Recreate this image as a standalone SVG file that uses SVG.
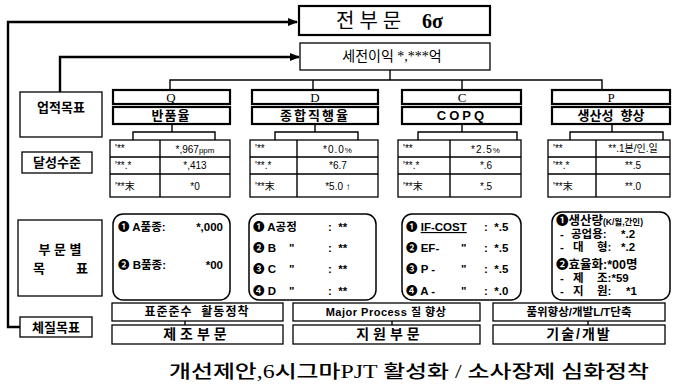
<svg xmlns="http://www.w3.org/2000/svg" width="673" height="387" viewBox="0 0 673 387">
<defs>
<style>
.bx{fill:#fff;stroke:#000;stroke-width:1.3}
.bk{fill:#fff;stroke:#000;stroke-width:2.2}
.ln{fill:none;stroke:#000;stroke-width:1.4}
.lk{fill:none;stroke:#000;stroke-width:2.4}
.rb{fill:#fff;stroke:#000;stroke-width:1.5}
text{white-space:pre}
.k{font-family:"Liberation Sans","Noto Sans CJK KR",sans-serif;font-weight:bold;fill:#000}
.s{font-family:"Liberation Serif","Noto Sans CJK KR",serif;fill:#000}
.m{text-anchor:middle}
.e{text-anchor:end}
.lb{font-size:13px}
.cell{font-size:10px;font-family:"Liberation Sans","Noto Sans CJK KR",sans-serif;fill:#000}
.item{font-size:11.5px}
.pi{font-size:11.5px}
</style>
<marker id="ar" markerWidth="10" markerHeight="8" refX="9" refY="4" orient="auto" markerUnits="userSpaceOnUse">
<path d="M0,0 L10,4 L0,8 Z" fill="#000"/>
</marker>
</defs>
<rect width="673" height="387" fill="#fff"/>

<g id="connectors">
<polyline class="lk" points="20,327 8,327 8,22 297,22" marker-end="url(#ar)"/>
<polyline class="lk" points="60,92 60,57 299,57" marker-end="url(#ar)"/>
<line class="ln" x1="390" y1="70" x2="390" y2="80"/>
<polyline class="ln" points="170,90 170,80 602,80 602,90"/>
<line class="ln" x1="313" y1="80" x2="313" y2="90"/>
<line class="ln" x1="462" y1="80" x2="462" y2="90"/>
<path class="ln" d="M172,124V132M133,140V132H215V140"/>
<path class="ln" d="M315,124V132M275,140V132H358V140"/>
<path class="ln" d="M462,124V132M418,140V132H517V140"/>
<path class="ln" d="M612,124V132M570,140V132H663V140"/>
<line class="ln" x1="185" y1="321" x2="185" y2="325"/>
<line class="ln" x1="392" y1="321" x2="392" y2="325"/>
<line class="ln" x1="588" y1="321" x2="588" y2="325"/>
</g>

<g id="top">
<rect class="bk" x="299" y="6" width="191" height="29"/>
<text class="s" x="336" y="28" font-size="20">전 부 문</text>
<text class="s" x="422" y="28" font-size="20" font-weight="bold">6σ</text>
</g>
<g id="profit">
<rect class="bx" x="300" y="43" width="190" height="27"/>
<text class="s m" x="392" y="61" font-size="14">세전이익 *,***억</text>
</g>

<g id="label-perf">
<rect class="bx" x="20" y="92" width="82" height="45"/>
<text class="k m lb" x="61" y="112">업적목표</text>
</g>
<g id="label-level">
<rect class="bx" x="22" y="152" width="70" height="21"/>
<text class="k m lb" x="57" y="167">달성수준</text>
</g>
<g id="label-dept">
<rect class="bx" x="18" y="220" width="84" height="76"/>
<text class="k m lb" x="60" y="254">부 문 별</text>
<text class="k lb" x="33" y="273">목</text>
<text class="k lb" x="76" y="273">표</text>
</g>
<g id="label-const">
<rect class="bx" x="20" y="317" width="72" height="20"/>
<text class="k m lb" x="56" y="332">체질목표</text>
</g>

<g id="col-Q">
<rect class="bk" x="113" y="90" width="117" height="14"/>
<text class="s m" x="171" y="102" font-size="13">Q</text>
<rect class="bk" x="113" y="107" width="117" height="17"/>
<text class="k m" x="171" y="120" font-size="13" letter-spacing="1">반품율</text>
<rect class="bx" x="110" y="140" width="120" height="57"/>
<path class="ln" d="M160,140V197M110,157H230M110,174H230"/>
<text class="cell" x="115" y="152">'**</text>
<text class="cell" x="115" y="169">'**.*</text>
<text class="cell" x="115" y="190" font-size="12">'**末</text>
<text class="cell m" x="195" y="153" font-size="12">*,967<tspan font-size="8">ppm</tspan></text>
<text class="cell m" x="195" y="169">*,413</text>
<text class="cell m" x="195" y="190">*0</text>
</g>

<g id="col-D">
<rect class="bk" x="252" y="90" width="126" height="14"/>
<text class="s m" x="315" y="102" font-size="13">D</text>
<rect class="bk" x="252" y="107" width="126" height="17"/>
<text class="k m" x="315" y="120" font-size="13" letter-spacing="2">종합직행율</text>
<rect class="bx" x="250" y="140" width="128" height="57"/>
<path class="ln" d="M297,140V197M250,157H378M250,174H378"/>
<text class="cell" x="255" y="152">'**</text>
<text class="cell" x="255" y="169">'**.*</text>
<text class="cell" x="255" y="190" font-size="12">'**末</text>
<text class="cell m" x="338" y="153" font-size="12" letter-spacing="1">*0.0<tspan font-size="8">%</tspan></text>
<text class="cell m" x="338" y="169">*6.7</text>
<text class="cell m" x="338" y="190" font-size="11">*5.0 ↑</text>
</g>

<g id="col-C">
<rect class="bk" x="402" y="90" width="119" height="14"/>
<text class="s m" x="462" y="102" font-size="13">C</text>
<rect class="bk" x="402" y="107" width="119" height="17"/>
<text class="k m" x="462" y="120" font-size="13" letter-spacing="3">COPQ</text>
<rect class="bx" x="398" y="140" width="123" height="57"/>
<path class="ln" d="M450,140V197M398,157H521M398,174H521"/>
<text class="cell" x="403" y="152">'**</text>
<text class="cell" x="403" y="169">'**.*</text>
<text class="cell" x="403" y="190" font-size="12">'**末</text>
<text class="cell m" x="486" y="153" font-size="12" letter-spacing="1">*2.5<tspan font-size="8">%</tspan></text>
<text class="cell m" x="486" y="169">*.6</text>
<text class="cell m" x="486" y="190">*.5</text>
</g>

<g id="col-P">
<rect class="bk" x="552" y="90" width="118" height="14"/>
<text class="s m" x="611" y="102" font-size="13">P</text>
<rect class="bk" x="552" y="107" width="118" height="17"/>
<text class="k m" x="611" y="120" font-size="13">생산성  향상</text>
<rect class="bx" x="548" y="140" width="122" height="57"/>
<path class="ln" d="M596,140V197M548,157H670M548,174H670"/>
<text class="cell" x="553" y="152">'**</text>
<text class="cell" x="553" y="169">'**.*</text>
<text class="cell" x="553" y="190" font-size="12">'**末</text>
<text class="cell m" x="633" y="152" font-size="9.5">**.1본/인.일</text>
<text class="cell m" x="633" y="169">**.5</text>
<text class="cell m" x="633" y="190">**.0</text>
</g>

<g id="goal-Q">
<rect class="rb" x="113" y="214" width="117" height="86" rx="10"/>
<text class="k item" x="118" y="231">❶ A품종:</text>
<text class="k item e" x="223" y="231">*,000</text>
<text class="k item" x="118" y="269">❷ B품종:</text>
<text class="k item e" x="223" y="269">*00</text>
</g>
<g id="goal-D">
<rect class="rb" x="249" y="214" width="127" height="86" rx="10"/>
<text class="k item" x="253" y="231">❶ A공정</text>
<text class="k item" x="253" y="252">❷ B</text>
<text class="k item" x="253" y="273">❸ C</text>
<text class="k item" x="253" y="295">❹ D</text>
<text class="k item" x="289" y="252">"</text>
<text class="k item" x="289" y="273">"</text>
<text class="k item" x="289" y="295">"</text>
<text class="k item" x="328" y="231">:  **</text>
<text class="k item" x="328" y="252">:  **</text>
<text class="k item" x="328" y="273">:  **</text>
<text class="k item" x="328" y="295">:  **</text>
</g>
<g id="goal-C">
<rect class="rb" x="402" y="214" width="119" height="86" rx="10"/>
<text class="k item" x="406" y="231">❶ <tspan text-decoration="underline">IF-COST</tspan></text>
<text class="k item" x="406" y="252">❷ EF-</text>
<text class="k item" x="406" y="273">❸ P -</text>
<text class="k item" x="406" y="295">❹ A -</text>
<text class="k item" x="461" y="252">"</text>
<text class="k item" x="461" y="273">"</text>
<text class="k item" x="461" y="295">"</text>
<text class="k item" x="484" y="231">:  *.5</text>
<text class="k item" x="484" y="252">:  *.5</text>
<text class="k item" x="484" y="273">:  *.5</text>
<text class="k item" x="484" y="295">:  *.0</text>
</g>
<g id="goal-P">
<rect class="rb" x="552" y="212" width="118" height="88" rx="10"/>
<text class="k" x="556" y="225" font-size="12.5">❶생산량<tspan font-size="8.5">(K/월,간인)</tspan></text>
<text class="k pi" x="560" y="238">-</text>
<text class="k pi" x="571" y="238">공업용:</text>
<text class="k pi" x="621" y="238">*.2</text>
<text class="k pi" x="560" y="251">-</text>
<text class="k pi" x="573" y="251">대</text>
<text class="k pi" x="597" y="251">형:</text>
<text class="k pi" x="621" y="251">*.2</text>
<text class="k" x="556" y="269" font-size="12.5">❷효율화:*00명</text>
<text class="k pi" x="560" y="282">-</text>
<text class="k pi" x="573" y="282">제</text>
<text class="k pi" x="597" y="282">조:*59</text>
<text class="k pi" x="560" y="295">-</text>
<text class="k pi" x="573" y="295">지</text>
<text class="k pi" x="597" y="295">원:</text>
<text class="k pi" x="626" y="295">*1</text>
</g>

<g id="const-1">
<rect class="bx" x="112" y="303" width="171" height="18"/>
<text class="k m" x="197" y="316" font-size="12" letter-spacing="1">표준준수  활동정착</text>
<rect class="bx" x="112" y="325" width="171" height="19"/>
<text class="k m" x="197" y="339" font-size="14" letter-spacing="4">제조부문</text>
</g>
<g id="const-2">
<rect class="bx" x="293" y="303" width="187" height="18"/>
<text class="k m" x="386" y="316" font-size="11" letter-spacing="0.5">Major Process 질 향상</text>
<rect class="bx" x="293" y="325" width="187" height="19"/>
<text class="k m" x="390" y="339" font-size="14" letter-spacing="4">지원부문</text>
</g>
<g id="const-3">
<rect class="bx" x="493" y="303" width="172" height="18"/>
<text class="k m" x="579" y="316" font-size="11.5">품위향상/개발L/T단축</text>
<rect class="bx" x="493" y="325" width="172" height="19"/>
<text class="k m" x="579" y="339" font-size="14" letter-spacing="2">기술/개발</text>
</g>

<text id="footer" class="s m" x="409" y="378" font-size="18" font-weight="500" textLength="480" lengthAdjust="spacingAndGlyphs">개선제안,6시그마PJT 활성화 / 소사장제 심화정착</text>
</svg>
